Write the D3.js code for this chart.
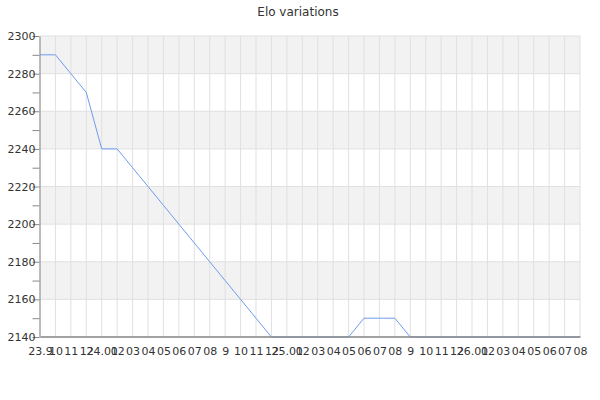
<!DOCTYPE html>
<html>
<head>
<meta charset="utf-8">
<script src="https://cdn.jsdelivr.net/npm/d3@7"></script>
<style>
  body { margin: 0; background: #fff; }
  text { font-family: "DejaVu Sans", sans-serif; fill: #333; }
</style>
</head>
<body>
<svg id="chart"></svg>
<script>
// month labels along the bottom, as shown
var monthLabels = ["23.9","10","11","12","24.01","02","03","04","05","06","07","08",
                   "9","10","11","12","25.01","02","03","04","05","06","07","08",
                   "9","10","11","12","26.01","02","03","04","05","06","07","08"];
// elo at each month
var eloValues = [2290,2290,2280,2270,2240,2240,2230,2220,2210,2200,2190,2180,
                 2170,2160,2150,2140,2140,2140,2140,2140,2140,2150,2150,2150,
                 2140,2140,2140,2140,2140,2140,2140,2140,2140,2140,2140,2140];
var yTicks = [2140,2160,2180,2200,2220,2240,2260,2280,2300];

var screen = { width: 600, height: 400 };
var margin = { top: 36, right: 20, bottom: 63, left: 40 };
var w = screen.width - margin.left - margin.right;
var h = screen.height - margin.top - margin.bottom;

var svg = d3.select("#chart")
            .attr("width", screen.width)
            .attr("height", screen.height);

var x = d3.scalePoint()
          .domain(d3.range(monthLabels.length))
          .range([0, w]);

var y = d3.scaleLinear()
          .domain([2140, 2300])
          .range([h, 0]);

var g = svg.append("g")
           .attr("transform", "translate(" + margin.left + "," + margin.top + ")");

// alternating bands
g.selectAll("rect.band")
 .data(yTicks.slice(0, -1))
 .enter()
 .append("rect")
 .attr("class", "band")
 .attr("x", 0)
 .attr("width", w)
 .attr("y", function(d){ return y(d + 20); })
 .attr("height", function(d){ return y(d) - y(d + 20); })
 .attr("fill", function(d, i){ return i % 2 == 1 ? "#f2f2f2" : "#fff"; });

// vertical grid
g.selectAll("line.vgrid")
 .data(x.domain())
 .enter()
 .append("line")
 .attr("x1", function(d){ return x(d); })
 .attr("x2", function(d){ return x(d); })
 .attr("y1", 0)
 .attr("y2", h)
 .attr("stroke", "#e0e0e0");

// horizontal grid
g.selectAll("line.hgrid")
 .data(yTicks)
 .enter()
 .append("line")
 .attr("x1", 0)
 .attr("x2", w)
 .attr("y1", function(d){ return y(d); })
 .attr("y2", function(d){ return y(d); })
 .attr("stroke", "#e0e0e0");

var line = d3.line()
             .x(function(d, i){ return x(i); })
             .y(function(d){ return y(d); });

g.append("path")
 .datum(eloValues)
 .attr("d", line)
 .attr("fill", "none")
 .attr("stroke", "#6f9bef")
 .attr("stroke-width", 1);

// y axis, minor ticks every 10, labels every 20
var yAxis = g.append("g")
             .attr("transform", "translate(-0.5,0)")
             .call(d3.axisLeft(y)
                     .tickValues(d3.range(2140, 2301, 10))
                     .tickSize(7)
                     .tickSizeOuter(0)
                     .tickFormat(function(d){ return d % 20 == 0 ? d : ""; }));
yAxis.select(".domain").attr("stroke", "#888");
yAxis.selectAll(".tick line").attr("stroke", "#888");
yAxis.selectAll("text")
     .attr("x", -4)
     .attr("font-size", 11)
     .attr("font-family", "DejaVu Sans")
     .attr("fill", "#333");

// x axis, drawn over the line so the flat part at 2140 hides under it
var xAxis = g.append("g")
             .attr("transform", "translate(0," + (h - 0.5) + ")")
             .call(d3.axisBottom(x)
                     .tickSize(0)
                     .tickSizeOuter(0)
                     .tickFormat(function(i){ return monthLabels[i]; }));
xAxis.select(".domain").attr("stroke", "#888").attr("stroke-width", 1.6);
xAxis.selectAll("text")
     .attr("y", 11)
     .attr("font-size", 11)
     .attr("font-family", "DejaVu Sans")
     .attr("fill", "#333");

svg.append("text")
   .attr("x", 298)
   .attr("y", 16)
   .attr("text-anchor", "middle")
   .attr("font-size", 12)
   .text("Elo variations");
</script>
</body>
</html>
